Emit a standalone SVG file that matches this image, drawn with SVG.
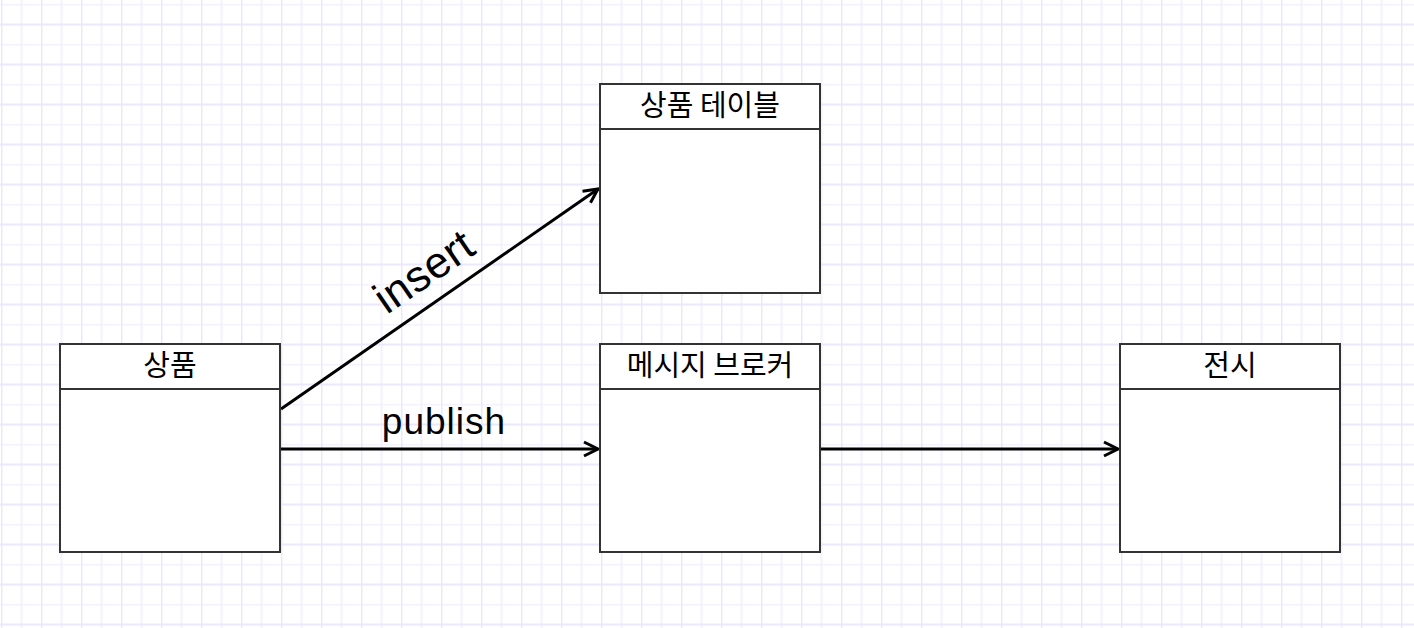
<svg xmlns="http://www.w3.org/2000/svg" width="1414" height="628" viewBox="0 0 1414 628">
<style>
.box{fill:#ffffff;stroke:#333333;stroke-width:2}
.hdr{fill:none;stroke:#333333;stroke-width:2}
.title{font-family:"Noto Sans CJK KR","Noto Sans",sans-serif;font-size:29px;fill:#000;text-anchor:middle}
.edge{fill:none;stroke:#000;stroke-width:3}
.lbl{font-family:"Liberation Sans",Arial,sans-serif;font-size:37px;letter-spacing:1px;fill:#000;text-anchor:middle}
.lbl2{font-family:"Liberation Sans",Arial,sans-serif;font-size:44px;letter-spacing:0.5px;fill:#000;text-anchor:middle}
</style>
<defs>
<pattern id="grid" patternUnits="userSpaceOnUse" x="1" y="4" width="40" height="40">
<path d="M20.5,0 V40 M0,0.5 H40" stroke="#f4f2fd" stroke-width="2" fill="none"/>
<path d="M0.5,0 V40 M0,20.5 H40" stroke="#ebe8fb" stroke-width="2" fill="none"/>
</pattern>
<marker id="arr" markerUnits="userSpaceOnUse" markerWidth="20" markerHeight="20" refX="16" refY="8" orient="auto" viewBox="0 0 20 16">
<path d="M2,1 L16,8 L2,15" fill="none" stroke="#000" stroke-width="3" stroke-linejoin="miter"/>
</marker>
</defs>
<rect x="0" y="0" width="1414" height="628" fill="#ffffff"/>
<rect x="0" y="0" width="1414" height="628" fill="url(#grid)"/>
<g id="connectors">
<path class="edge" d="M281,409 L598,189" marker-end="url(#arr)"/>
<path class="edge" d="M281,449 L598,449" marker-end="url(#arr)"/>
<path class="edge" d="M821,449 L1118,449" marker-end="url(#arr)"/>
<text class="lbl2" transform="translate(425,273) rotate(-34.6)" x="0" y="13">insert</text>
<text class="lbl" x="444" y="434">publish</text>
</g>
<g id="node-product">
<rect class="box" x="60" y="344" width="220" height="208"/>
<line class="hdr" x1="60" y1="389" x2="280" y2="389"/>
<text class="title" x="170" y="376">상품</text>
</g>
<g id="node-product-table">
<rect class="box" x="600" y="84" width="220" height="209"/>
<line class="hdr" x1="600" y1="129" x2="820" y2="129"/>
<text class="title" x="710" y="116">상품 테이블</text>
</g>
<g id="node-broker">
<rect class="box" x="600" y="344" width="220" height="208"/>
<line class="hdr" x1="600" y1="389" x2="820" y2="389"/>
<text class="title" x="710" y="376">메시지 브로커</text>
</g>
<g id="node-display">
<rect class="box" x="1120" y="344" width="220" height="208"/>
<line class="hdr" x1="1120" y1="389" x2="1340" y2="389"/>
<text class="title" x="1230" y="376">전시</text>
</g>
</svg>
